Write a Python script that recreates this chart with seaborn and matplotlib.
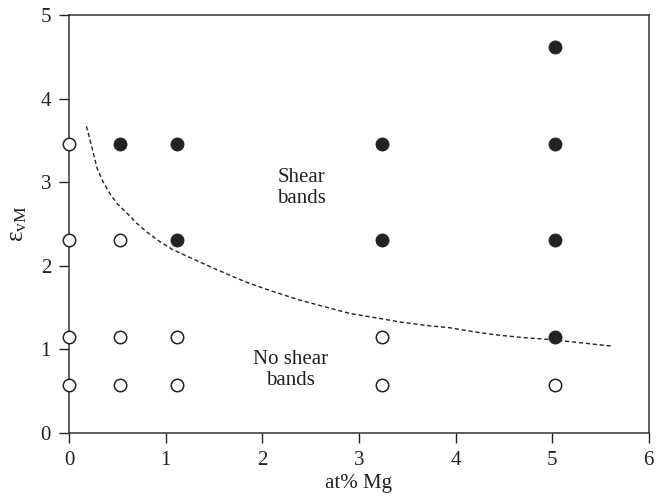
import matplotlib
matplotlib.use("Agg")
import matplotlib.pyplot as plt
import seaborn as sns
import pandas as pd

# Open circles: no shear bands
open_mg = [0, 0, 0, 0, 0.53, 0.53, 0.53, 1.12, 1.12, 3.24, 3.24, 5.03]
open_evm = [3.46, 2.31, 1.155, 0.577, 2.31, 1.155, 0.577, 1.155, 0.577, 1.155, 0.577, 0.577]
# Filled circles: shear bands
fill_mg = [0.53, 1.12, 1.12, 3.24, 3.24, 5.03, 5.03, 5.03, 5.03]
fill_evm = [3.46, 3.46, 2.31, 3.46, 2.31, 4.62, 3.46, 2.31, 1.155]
# Dashed boundary curve
curve_mg = [0.18, 0.24, 0.29, 0.35, 0.42, 0.50, 0.60, 0.70, 0.81, 0.94, 1.08, 1.27, 1.46, 1.74, 1.87, 2.12, 2.39, 2.65, 2.91, 3.17, 3.42, 3.68, 3.94, 4.20, 4.46, 4.72, 4.97, 5.30, 5.62]
curve_evm = [3.67, 3.40, 3.17, 3.01, 2.87, 2.74, 2.63, 2.51, 2.40, 2.29, 2.19, 2.09, 1.99, 1.85, 1.79, 1.69, 1.59, 1.51, 1.43, 1.38, 1.33, 1.29, 1.26, 1.21, 1.17, 1.14, 1.12, 1.08, 1.04]

xticks = [0, 1, 2, 3, 4, 5, 6]
yticks = [0, 1, 2, 3, 4, 5]

sns.set_theme(style="ticks")
plt.rcParams["font.family"] = ["Liberation Serif", "DejaVu Serif"]
plt.rcParams["mathtext.fontset"] = "custom"
plt.rcParams["mathtext.rm"] = "Liberation Serif"

fig = plt.figure(figsize=(6.64, 4.99), dpi=100)
ax = fig.add_axes([0.104, 0.132, 0.873, 0.838])

curve = pd.DataFrame({"x": curve_mg, "y": curve_evm})
sns.lineplot(data=curve, x="x", y="y", sort=False, ax=ax, color="#222222",
             linewidth=1.0, linestyle=(0, (3, 2)))

op = pd.DataFrame({"x": open_mg, "y": open_evm})
fl = pd.DataFrame({"x": fill_mg, "y": fill_evm})
sns.scatterplot(data=op, x="x", y="y", ax=ax, s=80, facecolor="white",
                edgecolor="#222222", linewidth=1.1, clip_on=False, zorder=5)
sns.scatterplot(data=fl, x="x", y="y", ax=ax, s=90, color="#222222",
                edgecolor="#222222", linewidth=0.5, clip_on=False, zorder=5)

ax.set_xlim(0, 6)
ax.set_ylim(0, 5)
ax.set_xticks(xticks)
ax.set_yticks(yticks)
ax.tick_params(axis="both", direction="out", length=7, width=1.0,
               labelsize=15, colors="#222222", top=False, right=False)
ax.tick_params(axis="x", pad=6)
ax.tick_params(axis="y", pad=6)
for sp in ax.spines.values():
    sp.set_color("#333333")
    sp.set_linewidth(1.1)

ax.set_xlabel("at% Mg", fontsize=15, color="#222222", labelpad=3)
ax.set_ylabel(r"$\mathregular{\varepsilon_{vM}}$", fontsize=18, color="#222222", labelpad=8)

ax.text(2.41, 2.93, "Shear\nbands", ha="center", va="center", fontsize=15,
        color="#222222", linespacing=1.15)
ax.text(2.29, 0.75, "No shear\nbands", ha="center", va="center", fontsize=15,
        color="#222222", linespacing=1.15)

fig.savefig("out.png", dpi=100, facecolor="white")
